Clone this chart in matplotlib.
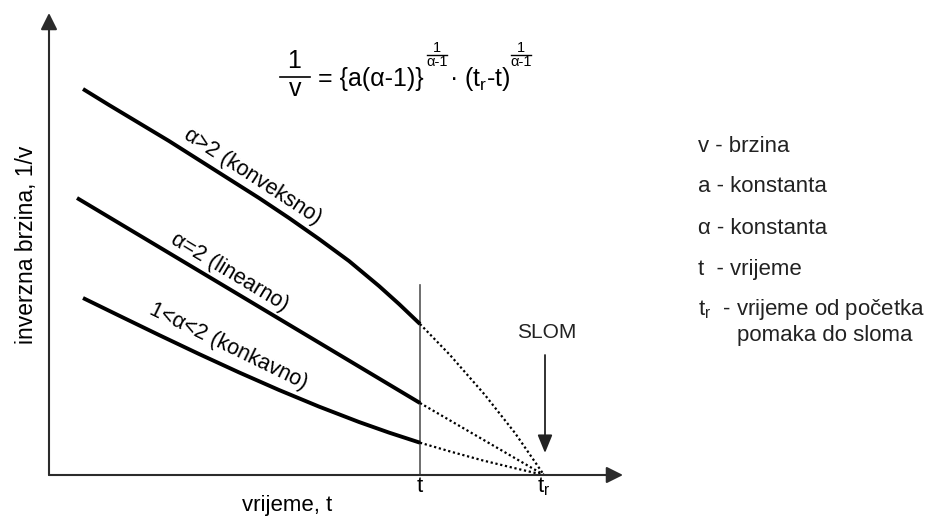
import numpy as np
import matplotlib
matplotlib.use("Agg")
import matplotlib.pyplot as plt

plt.rcParams['font.family'] = ['Liberation Sans', 'DejaVu Sans']
plt.rcParams['mathtext.fontset'] = 'custom'
plt.rcParams['mathtext.rm'] = 'Liberation Sans'
plt.rcParams['mathtext.it'] = 'Liberation Sans'
plt.rcParams['mathtext.bf'] = 'Liberation Sans:bold'

# schematic values (time, inverse velocity)
t_now = 371
t_fail = 495

t_konv = [34, 60, 90, 120, 150, 180, 210, 240, 270, 300, 330, 350, 371]
v_konv = [386, 370, 352, 334, 315, 296, 277, 257, 236, 214, 189, 171, 151]
t_konv_ext = [371, 401, 436, 466, 495]
v_konv_ext = [151, 120, 80, 42, 0]

t_lin = [28, 371]
v_lin = [277, 72]
t_lin_ext = [371, 495]
v_lin_ext = [72, 0]

t_konk = [34, 70, 110, 150, 190, 230, 270, 310, 340, 371]
v_konk = [177, 159.4, 140, 121, 102.6, 85, 68.4, 53, 42.4, 32.3]
t_konk_ext = [371, 403, 434, 465, 495]
v_konk_ext = [32.3, 23, 14.5, 7, 0]

legend_lines = ["v - brzina", "a - konstanta", "\u03b1 - konstanta",
                "t  - vrijeme", "t$_r$  - vrijeme od po\u010detka"]

fig = plt.figure(figsize=(9.28, 5.16), dpi=100)
ax = fig.add_axes([0, 0, 1, 1])
ax.set_xlim(-49, 879)
ax.set_ylim(-41, 475)
ax.axis('off')

axcol = '#2b2b2b'
arrow = dict(arrowstyle='-|>,head_length=1.0,head_width=0.5', lw=1.5,
             color=axcol, shrinkA=0, shrinkB=0)
# axes with arrow heads
ax.annotate('', xy=(0, 462), xytext=(0, 0), arrowprops=arrow)
ax.annotate('', xy=(574, 0), xytext=(0, 0), arrowprops=arrow)

# vertical line at current time
ax.plot([t_now, t_now], [0, 190], color='#555555', lw=1.2)

# curves
for tt, vv in [(t_konv, v_konv), (t_lin, v_lin), (t_konk, v_konk)]:
    ax.plot(tt, vv, color='black', lw=2.8, solid_capstyle='butt',
            solid_joinstyle='round')
for tt, vv in [(t_konv_ext, v_konv_ext), (t_lin_ext, v_lin_ext), (t_konk_ext, v_konk_ext)]:
    ax.plot(tt, vv, color='black', lw=1.6, linestyle=(0, (1, 1.2)))

fs = 15.5
ax.text(204, 298, "\u03b1>2 (konveksno)", rotation=-33, fontsize=fs,
        ha='center', va='center', rotation_mode='anchor')
ax.text(181, 203, "\u03b1=2 (linearno)", rotation=-31, fontsize=fs,
        ha='center', va='center', rotation_mode='anchor')
ax.text(179, 128, "1<\u03b1<2 (konkavno)", rotation=-26, fontsize=fs,
        ha='center', va='center', rotation_mode='anchor')

# SLOM arrow
ax.text(498, 142, "SLOM", fontsize=15, ha='center', va='center', color='#222222')
ax.annotate('', xy=(496, 22), xytext=(496, 120),
            arrowprops=dict(arrowstyle='-|>,head_length=1.1,head_width=0.45',
                            lw=1.3, color='#222222', shrinkA=0, shrinkB=0))

# axis labels
ax.text(t_now, -12, "t", fontsize=16, ha='center', va='center')
ax.text(t_fail, -12, "t$_r$", fontsize=16, ha='center', va='center')
ax.text(238, -30, "vrijeme, t", fontsize=16, ha='center', va='center')
ax.text(-22, 230, "inverzna brzina, 1/v", fontsize=16.5, rotation=90,
        ha='center', va='center')

# formula, built from pieces: 1/v = {a(a-1)}^(1/(a-1)) . (tr-t)^(1/(a-1))
ffs = 18
efs = 10.5
ax.text(245, 414, "1", fontsize=ffs, ha='center', va='center')
ax.plot([231, 261], [398, 398], color='black', lw=1.2)
ax.text(246, 386, "v", fontsize=ffs, ha='center', va='center')
ax.text(269, 389, "= {a(\u03b1-1)}", fontsize=ffs, ha='left', va='baseline')
ax.text(400, 389, "\u00b7 (t$_r$-t)", fontsize=ffs, ha='left', va='baseline')
for ex in [388, 472]:
    ax.text(ex, 427, "1", fontsize=efs, ha='center', va='center')
    ax.plot([ex - 10, ex + 10], [420, 420], color='black', lw=1.0)
    ax.text(ex, 412.5, "\u03b1-1", fontsize=efs, ha='center', va='center')

# explanation list
leg_y = [328, 289, 247, 205, 165]
for s, yy in zip(legend_lines, leg_y):
    ax.text(649, yy, s, fontsize=16, ha='left', va='center', color='#222222')
ax.text(688, 140, "pomaka do sloma", fontsize=16, ha='left', va='center', color='#222222')

fig.savefig("out.png", dpi=100)
